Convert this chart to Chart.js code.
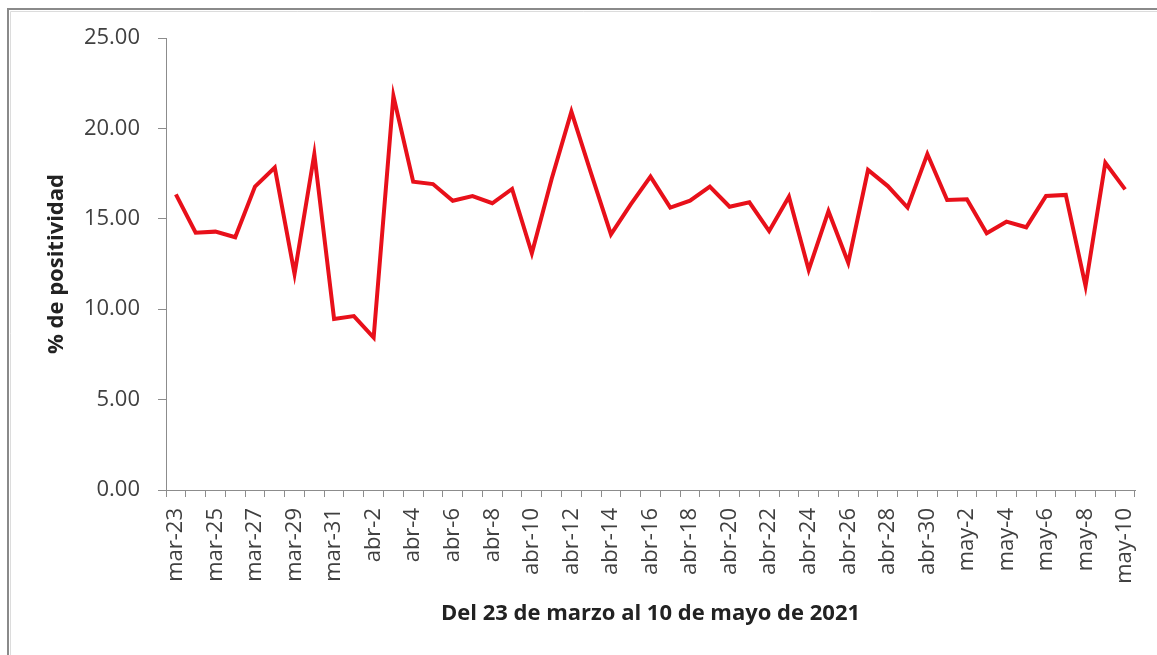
<!DOCTYPE html>
<html>
<head>
<meta charset="utf-8">
<script src="https://cdn.jsdelivr.net/npm/chart.js@4/dist/chart.umd.min.js"></script>
<style>
  html, body { margin: 0; padding: 0; background: #ffffff; }
  #wrap { position: relative; width: 1157px; height: 655px; }
  canvas { display: block; }
</style>
</head>
<body>
<div id="wrap"><canvas id="c" width="1157" height="655"></canvas></div>
<script>
// ---- Data ----
const categories = [
  'mar-23','mar-24','mar-25','mar-26','mar-27','mar-28','mar-29','mar-30','mar-31',
  'abr-1','abr-2','abr-3','abr-4','abr-5','abr-6','abr-7','abr-8','abr-9','abr-10',
  'abr-11','abr-12','abr-13','abr-14','abr-15','abr-16','abr-17','abr-18','abr-19','abr-20',
  'abr-21','abr-22','abr-23','abr-24','abr-25','abr-26','abr-27','abr-28','abr-29','abr-30',
  'may-1','may-2','may-3','may-4','may-5','may-6','may-7','may-8','may-9','may-10'
];
const positividad = [
  16.35, 14.23, 14.29, 13.98, 16.78, 17.83, 11.95, 18.58, 9.46,
  9.62, 8.43, 21.79, 17.05, 16.92, 16.00, 16.26, 15.86, 16.65, 13.09,
  17.20, 20.93, 17.50, 14.14, 15.80, 17.33, 15.62, 16.00, 16.78, 15.67,
  15.91, 14.32, 16.22, 12.17, 15.42, 12.57, 17.70, 16.81, 15.62, 18.58,
  16.04, 16.08, 14.20, 14.84, 14.53, 16.26, 16.32, 11.28, 18.10, 16.63
];
const yTicks = [0, 5, 10, 15, 20, 25];
const yTitle = '% de positividad';
const xTitle = 'Del 23 de marzo al 10 de mayo de 2021';

// ---- Frame plugin (outer chart border, top & left) ----
const framePlugin = {
  id: 'frame',
  beforeDraw(chart) {
    const ctx = chart.ctx;
    ctx.save();
    ctx.fillStyle = '#ffffff';
    ctx.fillRect(0, 0, chart.width, chart.height);
    ctx.strokeStyle = '#8a8a8a';
    ctx.lineWidth = 2;
    ctx.beginPath();
    ctx.moveTo(8, chart.height);
    ctx.lineTo(8, 9);
    ctx.lineTo(chart.width, 9);
    ctx.stroke();
    ctx.strokeStyle = '#dcdcdc';
    ctx.lineWidth = 1;
    ctx.beginPath();
    ctx.moveTo(10.5, chart.height);
    ctx.lineTo(10.5, 11.5);
    ctx.lineTo(chart.width, 11.5);
    ctx.stroke();
    ctx.restore();
  }
};

const axisColor = '#8c8c8c';
const tickColor = '#404040';

new Chart(document.getElementById('c'), {
  type: 'line',
  data: {
    labels: categories,
    datasets: [{
      data: positividad,
      borderColor: '#e8101a',
      borderWidth: 4,
      pointRadius: 0,
      pointHoverRadius: 0,
      tension: 0,
      fill: false
    }]
  },
  options: {
    responsive: false,
    animation: false,
    events: [],
    layout: { padding: { left: 0, right: 22, top: 38, bottom: 0 } },
    plugins: {
      legend: { display: false },
      tooltip: { enabled: false }
    },
    scales: {
      x: {
        type: 'category',
        offset: true,
        grid: {
          offset: true,
          drawOnChartArea: false,
          drawTicks: true,
          tickLength: 7,
          color: axisColor,
          lineWidth: 1
        },
        border: { display: true, color: axisColor, width: 1 },
        ticks: {
          autoSkip: false,
          maxRotation: 90,
          minRotation: 90,
          padding: 11,
          color: tickColor,
          font: { family: 'Open Sans', size: 22 },
          callback: function(value, index) {
            return index % 2 === 0 ? this.getLabelForValue(value) : '';
          }
        },
        title: {
          display: true,
          text: xTitle,
          color: '#222222',
          font: { family: 'Open Sans', size: 22, weight: 'bold' },
          padding: { top: 0, bottom: 28 }
        },
        afterFit(scale) {
          scale.height = 165;
          scale.paddingLeft = 0;
          scale.paddingRight = 0;
        }
      },
      y: {
        min: 0,
        max: 25,
        afterBuildTicks(scale) { scale.ticks = yTicks.map(v => ({ value: v })); },
        grid: {
          drawOnChartArea: false,
          drawTicks: true,
          tickLength: 8,
          color: axisColor,
          lineWidth: 1
        },
        border: { display: true, color: axisColor, width: 1 },
        ticks: {
          padding: 18,
          color: tickColor,
          font: { family: 'Open Sans', size: 22 },
          callback: (v) => Number(v).toFixed(2)
        },
        title: {
          display: true,
          text: yTitle,
          color: '#222222',
          font: { family: 'Open Sans', size: 22, weight: 'bold' },
          padding: { top: 44, bottom: 0 }
        },
        afterFit(scale) { scale.width = 166; }
      }
    }
  },
  plugins: [framePlugin]
});
</script>
</body>
</html>
